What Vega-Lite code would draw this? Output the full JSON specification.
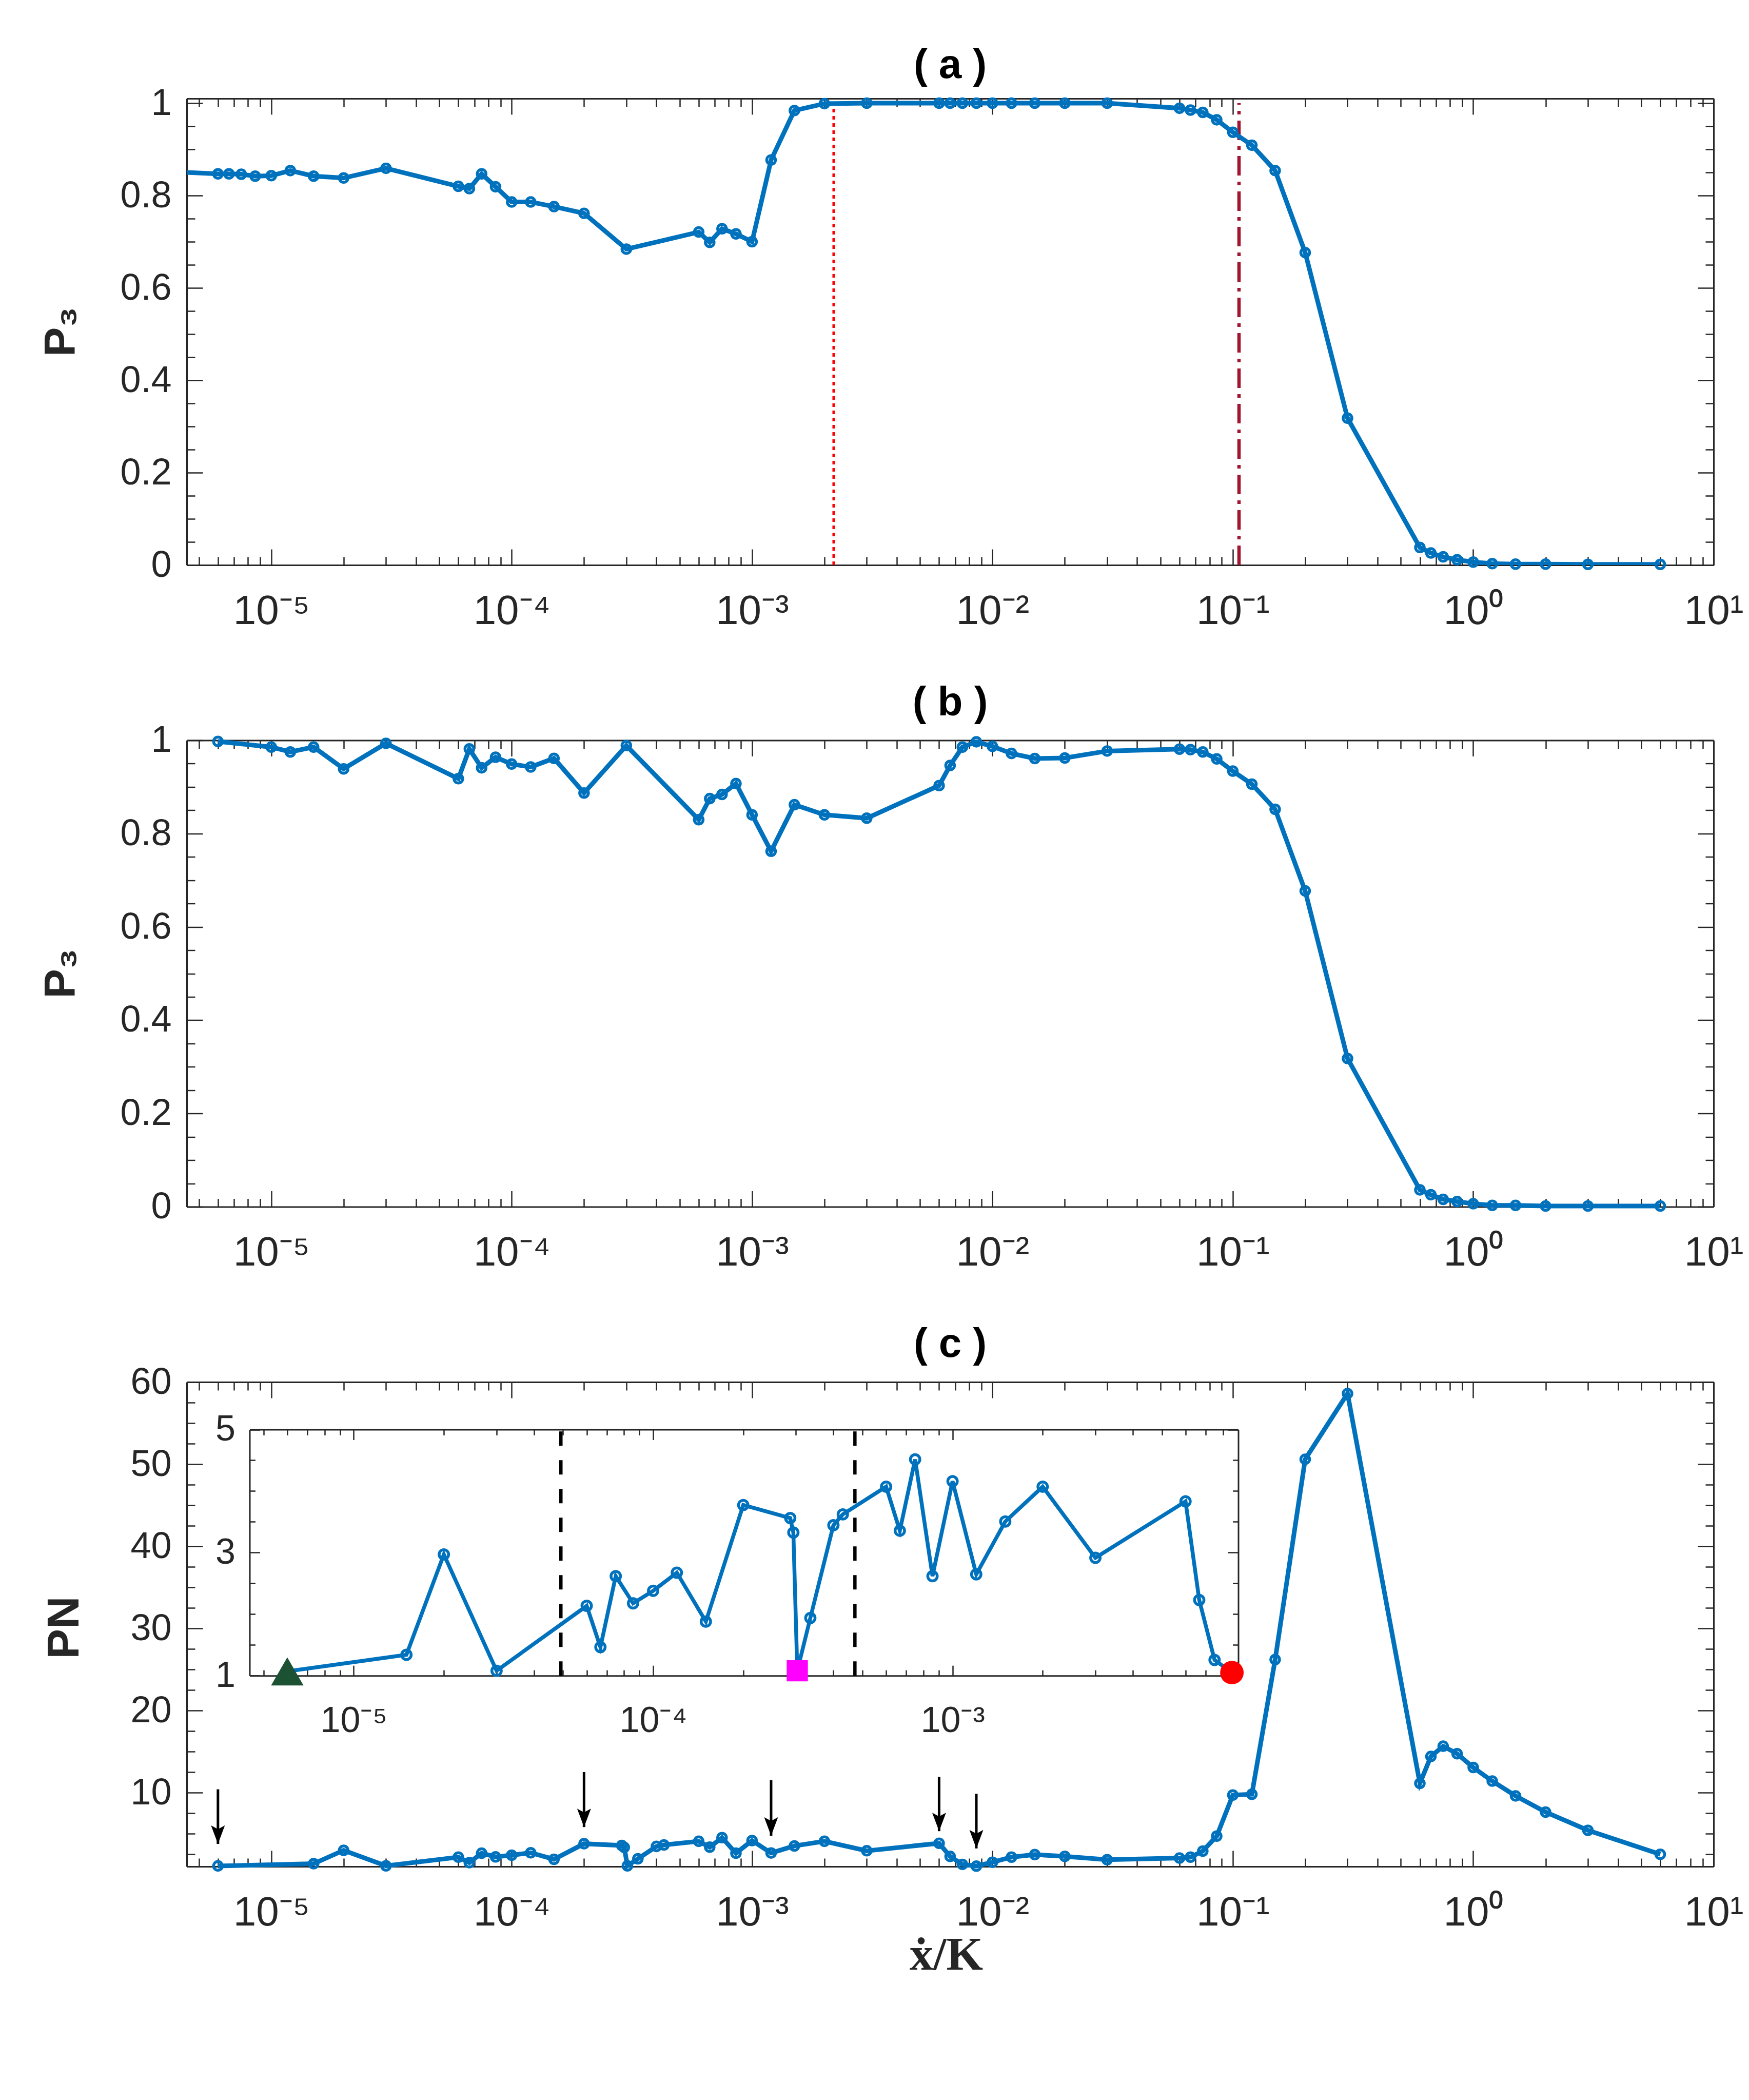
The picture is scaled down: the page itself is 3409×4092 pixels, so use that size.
{
  "$schema": "https://vega.github.io/schema/vega-lite/v6.json",
  "background": "white",
  "padding": {"left": 76, "top": 88, "right": 40, "bottom": 40},
  "bounds": "flush",
  "spacing": 341.5,
  "config": {
    "view": {"stroke": null},
    "font": "Liberation Sans",
    "axis": {"grid": false, "domainColor": "#262626", "domainWidth": 3, "tickColor": "#262626", "tickWidth": 2.5, "labelColor": "#262626", "labelFont": "Liberation Sans", "titleColor": "#262626"},
    "title": {"font": "Liberation Sans", "fontSize": 80, "fontWeight": "bold", "color": "#000000", "anchor": "middle", "baseline": "alphabetic", "offset": -4},
    "point": {"opacity": 1}
  },
  "datasets": {
    "pa": [
      {"x": 3e-6, "p3": 0.854}, {"x": 6e-6, "p3": 0.847}, {"x": 6.667e-6, "p3": 0.847}, {"x": 7.5e-6, "p3": 0.846}, {"x": 8.571e-6, "p3": 0.842},
      {"x": 1e-5, "p3": 0.843}, {"x": 1.2e-5, "p3": 0.854}, {"x": 1.5e-5, "p3": 0.842}, {"x": 2e-5, "p3": 0.838}, {"x": 3e-5, "p3": 0.859},
      {"x": 6e-5, "p3": 0.82}, {"x": 6.667e-5, "p3": 0.815}, {"x": 7.5e-5, "p3": 0.847}, {"x": 8.571e-5, "p3": 0.819}, {"x": 1e-4, "p3": 0.786},
      {"x": 1.2e-4, "p3": 0.786}, {"x": 1.5e-4, "p3": 0.776}, {"x": 2e-4, "p3": 0.7615}, {"x": 3e-4, "p3": 0.684}, {"x": 6e-4, "p3": 0.721},
      {"x": 6.667e-4, "p3": 0.6985}, {"x": 7.5e-4, "p3": 0.728}, {"x": 8.571e-4, "p3": 0.717}, {"x": 0.001, "p3": 0.7}, {"x": 0.0012, "p3": 0.877},
      {"x": 0.0015, "p3": 0.984}, {"x": 0.002, "p3": 0.999}, {"x": 0.003, "p3": 1.0}, {"x": 0.006, "p3": 1.0}, {"x": 0.006667, "p3": 1.0},
      {"x": 0.0075, "p3": 1.0}, {"x": 0.008571, "p3": 1.0}, {"x": 0.01, "p3": 1.0}, {"x": 0.012, "p3": 1.0}, {"x": 0.015, "p3": 1.0},
      {"x": 0.02, "p3": 1.0}, {"x": 0.03, "p3": 1.0}, {"x": 0.06, "p3": 0.989}, {"x": 0.06667, "p3": 0.985}, {"x": 0.075, "p3": 0.98},
      {"x": 0.08571, "p3": 0.964}, {"x": 0.1, "p3": 0.937}, {"x": 0.12, "p3": 0.909}, {"x": 0.15, "p3": 0.854}, {"x": 0.2, "p3": 0.6765},
      {"x": 0.3, "p3": 0.318}, {"x": 0.6, "p3": 0.038}, {"x": 0.6667, "p3": 0.026}, {"x": 0.75, "p3": 0.0177}, {"x": 0.8571, "p3": 0.0113},
      {"x": 1, "p3": 0.0064}, {"x": 1.2, "p3": 0.003}, {"x": 1.5, "p3": 0.002}, {"x": 2, "p3": 0.002}, {"x": 3, "p3": 0.0014}, {"x": 6, "p3": 0.0014}
    ],
    "pb": [
      {"x": 6e-6, "p3": 0.9976}, {"x": 1e-5, "p3": 0.9855}, {"x": 1.2e-5, "p3": 0.975}, {"x": 1.5e-5, "p3": 0.9855}, {"x": 2e-5, "p3": 0.9387},
      {"x": 3e-5, "p3": 0.9935}, {"x": 6e-5, "p3": 0.9177}, {"x": 6.667e-5, "p3": 0.9815}, {"x": 7.5e-5, "p3": 0.941}, {"x": 8.571e-5, "p3": 0.9637},
      {"x": 1e-4, "p3": 0.949}, {"x": 1.2e-4, "p3": 0.9427}, {"x": 1.5e-4, "p3": 0.9613}, {"x": 2e-4, "p3": 0.887}, {"x": 3e-4, "p3": 0.9887},
      {"x": 6e-4, "p3": 0.8298}, {"x": 6.667e-4, "p3": 0.875}, {"x": 7.5e-4, "p3": 0.8839}, {"x": 8.571e-4, "p3": 0.9073}, {"x": 0.001, "p3": 0.8403},
      {"x": 0.0012, "p3": 0.7621}, {"x": 0.0015, "p3": 0.862}, {"x": 0.002, "p3": 0.8403}, {"x": 0.003, "p3": 0.833}, {"x": 0.006, "p3": 0.903},
      {"x": 0.006667, "p3": 0.946}, {"x": 0.0075, "p3": 0.9855}, {"x": 0.008571, "p3": 0.9968}, {"x": 0.01, "p3": 0.987}, {"x": 0.012, "p3": 0.9718},
      {"x": 0.015, "p3": 0.961}, {"x": 0.02, "p3": 0.962}, {"x": 0.03, "p3": 0.977}, {"x": 0.06, "p3": 0.981}, {"x": 0.06667, "p3": 0.98},
      {"x": 0.075, "p3": 0.975}, {"x": 0.08571, "p3": 0.96}, {"x": 0.1, "p3": 0.934}, {"x": 0.12, "p3": 0.906}, {"x": 0.15, "p3": 0.852},
      {"x": 0.2, "p3": 0.677}, {"x": 0.3, "p3": 0.318}, {"x": 0.6, "p3": 0.0363}, {"x": 0.6667, "p3": 0.0258}, {"x": 0.75, "p3": 0.016},
      {"x": 0.8571, "p3": 0.0113}, {"x": 1, "p3": 0.0065}, {"x": 1.2, "p3": 0.003}, {"x": 1.5, "p3": 0.003}, {"x": 2, "p3": 0.0016},
      {"x": 3, "p3": 0.0016}, {"x": 6, "p3": 0.0016}
    ],
    "pc": [
      {"x": 6e-6, "pn": 1.07}, {"x": 1.5e-5, "pn": 1.34}, {"x": 2e-5, "pn": 2.97}, {"x": 3e-5, "pn": 1.08}, {"x": 6e-5, "pn": 2.135},
      {"x": 6.667e-5, "pn": 1.465}, {"x": 7.5e-5, "pn": 2.617}, {"x": 8.571e-5, "pn": 2.176}, {"x": 1e-4, "pn": 2.379}, {"x": 1.2e-4, "pn": 2.674},
      {"x": 1.5e-4, "pn": 1.879}, {"x": 2e-4, "pn": 3.773}, {"x": 2.87e-4, "pn": 3.561}, {"x": 2.94e-4, "pn": 3.326}, {"x": 3.03e-4, "pn": 1.08},
      {"x": 3.35e-4, "pn": 1.938}, {"x": 4e-4, "pn": 3.445}, {"x": 4.3e-4, "pn": 3.621}, {"x": 6e-4, "pn": 4.071}, {"x": 6.667e-4, "pn": 3.356},
      {"x": 7.5e-4, "pn": 4.5145}, {"x": 8.571e-4, "pn": 2.617}, {"x": 0.001, "pn": 4.16}, {"x": 0.0012, "pn": 2.647}, {"x": 0.0015, "pn": 3.505},
      {"x": 0.002, "pn": 4.071}, {"x": 0.003, "pn": 2.915}, {"x": 0.006, "pn": 3.832}, {"x": 0.006667, "pn": 2.23}, {"x": 0.0075, "pn": 1.256},
      {"x": 0.008571, "pn": 1.05}, {"x": 0.01, "pn": 1.52}, {"x": 0.012, "pn": 2.14}, {"x": 0.015, "pn": 2.45}, {"x": 0.02, "pn": 2.24},
      {"x": 0.03, "pn": 1.83}, {"x": 0.06, "pn": 2.03}, {"x": 0.06667, "pn": 2.14}, {"x": 0.075, "pn": 2.88}, {"x": 0.08571, "pn": 4.7},
      {"x": 0.1, "pn": 9.7}, {"x": 0.12, "pn": 9.8}, {"x": 0.15, "pn": 26.2}, {"x": 0.2, "pn": 50.6}, {"x": 0.3, "pn": 58.6},
      {"x": 0.6, "pn": 11.13}, {"x": 0.6667, "pn": 14.4}, {"x": 0.75, "pn": 15.65}, {"x": 0.8571, "pn": 14.73}, {"x": 1, "pn": 13.06},
      {"x": 1.2, "pn": 11.4}, {"x": 1.5, "pn": 9.6}, {"x": 2, "pn": 7.63}, {"x": 3, "pn": 5.41}, {"x": 6, "pn": 2.48}
    ],
    "arrows": [
      {"x": 6e-6, "top": 10.4, "tip": 3.75}, {"x": 2e-4, "top": 12.5, "tip": 5.8}, {"x": 0.0012, "top": 11.5, "tip": 4.75},
      {"x": 0.006, "top": 11.9, "tip": 5.3}, {"x": 0.008571, "top": 9.85, "tip": 3.2}
    ]
  },
  "vconcat": [
    {
      "width": 2976, "height": 909,
      "title": {"text": "( a )"},
      "resolve": {"axis": {"x": "independent", "y": "independent"}},
      "layer": [
        {
          "data": {"values": [{"x": 0.002186}]},
          "mark": {"type": "rule", "color": "#FF0000", "strokeWidth": 5, "strokeDash": [7, 7]},
          "encoding": {
            "x": {"field": "x", "type": "quantitative", "scale": {"type": "log", "domain": [4.45e-6, 10], "nice": false},
                  "axis": {"orient": "top", "values": [1e-5, 1e-4, 0.001, 0.01, 0.1, 1, 10], "tickSize": -31, "labels": false, "title": null}},
            "y": {"datum": 0, "type": "quantitative", "scale": {"domain": [0, 1.01], "nice": false, "zero": false},
                  "axis": {"orient": "right", "values": [0, 0.2, 0.4, 0.6, 0.8, 1], "tickSize": -31, "labels": false, "title": null}},
            "y2": {"datum": 1}
          }
        },
        {
          "data": {"values": [{"x": 0.1061}]},
          "mark": {"type": "rule", "color": "#A2142F", "strokeWidth": 6.5, "strokeDash": [38, 12, 7, 12]},
          "encoding": {
            "x": {"field": "x", "type": "quantitative", "scale": {"type": "log", "domain": [4.45e-6, 10], "nice": false},
                  "axis": {"orient": "top", "values": [5e-6, 6e-6, 7e-6, 8e-6, 9e-6, 2e-5, 3e-5, 4e-5, 5e-5, 6e-5, 7e-5, 8e-5, 9e-5, 2e-4, 3e-4, 4e-4, 5e-4, 6e-4, 7e-4, 8e-4, 9e-4, 0.002, 0.003, 0.004, 0.005, 0.006, 0.007, 0.008, 0.009, 0.02, 0.03, 0.04, 0.05, 0.06, 0.07, 0.08, 0.09, 0.2, 0.3, 0.4, 0.5, 0.6, 0.7, 0.8, 0.9, 2, 3, 4, 5, 6, 7, 8, 9], "tickSize": -16, "labels": false, "domain": false, "title": null}},
            "y": {"datum": 0, "type": "quantitative", "scale": {"domain": [0, 1.01], "nice": false, "zero": false},
                  "axis": {"orient": "right", "values": [0.05, 0.1, 0.15, 0.25, 0.3, 0.35, 0.45, 0.5, 0.55, 0.65, 0.7, 0.75, 0.85, 0.9, 0.95], "tickSize": -16, "labels": false, "domain": false, "title": null}},
            "y2": {"datum": 1}
          }
        },
        {
          "data": {"name": "pa"},
          "mark": {"type": "line", "clip": true, "color": "#0072BD", "strokeWidth": 9},
          "encoding": {
            "x": {"field": "x", "type": "quantitative", "scale": {"type": "log", "domain": [4.45e-6, 10], "nice": false},
                  "axis": {"orient": "bottom", "values": [1e-5, 1e-4, 0.001, 0.01, 0.1, 1, 10], "tickSize": -31, "labelExpr": "'10' + replace(replace(replace(replace(replace(replace(replace(replace('' + round(log(datum.value)/LN10), '-', '⁻'), '0', '⁰'), '1', '¹'), '2', '²'), '3', '³'), '4', '⁴'), '5', '⁵'), '6', '⁶')", "labelFontSize": 80, "labelBaseline": "alphabetic", "labelPadding": 145, "labelFlush": false, "labelOverlap": false, "title": null}},
            "y": {"field": "p3", "type": "quantitative", "scale": {"domain": [0, 1.01], "nice": false, "zero": false},
                  "axis": {"orient": "left", "values": [0, 0.2, 0.4, 0.6, 0.8, 1], "labelExpr": "'' + datum.value", "tickSize": -31, "labelFontSize": 72, "labelPadding": 61, "title": "P₃", "titleFont": "Liberation Sans", "titleFontSize": 86, "titleFontWeight": "bold", "titleAngle": 270, "titleX": -245, "titleY": 454, "titleAlign": "center", "titleBaseline": "middle"}}
          }
        },
        {
          "data": {"name": "pa"},
          "transform": [{"filter": "datum.x > 4.45e-6"}],
          "mark": {"type": "point", "shape": "circle", "filled": false, "color": "#0072BD", "strokeWidth": 5.5, "size": 290, "opacity": 1},
          "encoding": {
            "x": {"field": "x", "type": "quantitative", "scale": {"type": "log", "domain": [4.45e-6, 10], "nice": false},
                  "axis": {"orient": "bottom", "values": [5e-6, 6e-6, 7e-6, 8e-6, 9e-6, 2e-5, 3e-5, 4e-5, 5e-5, 6e-5, 7e-5, 8e-5, 9e-5, 2e-4, 3e-4, 4e-4, 5e-4, 6e-4, 7e-4, 8e-4, 9e-4, 0.002, 0.003, 0.004, 0.005, 0.006, 0.007, 0.008, 0.009, 0.02, 0.03, 0.04, 0.05, 0.06, 0.07, 0.08, 0.09, 0.2, 0.3, 0.4, 0.5, 0.6, 0.7, 0.8, 0.9, 2, 3, 4, 5, 6, 7, 8, 9], "tickSize": -16, "labels": false, "domain": false, "title": null}},
            "y": {"field": "p3", "type": "quantitative", "scale": {"domain": [0, 1.01], "nice": false, "zero": false},
                  "axis": {"orient": "left", "values": [0.05, 0.1, 0.15, 0.25, 0.3, 0.35, 0.45, 0.5, 0.55, 0.65, 0.7, 0.75, 0.85, 0.9, 0.95], "tickSize": -16, "labels": false, "domain": false, "title": null}}
          }
        }
      ]
    },
    {
      "width": 2976, "height": 909,
      "title": {"text": "( b )"},
      "resolve": {"axis": {"x": "independent", "y": "independent"}},
      "layer": [
        {
          "data": {"name": "pb"},
          "mark": {"type": "line", "color": "#0072BD", "strokeWidth": 9},
          "encoding": {
            "x": {"field": "x", "type": "quantitative", "scale": {"type": "log", "domain": [4.45e-6, 10], "nice": false},
                  "axis": {"orient": "bottom", "values": [1e-5, 1e-4, 0.001, 0.01, 0.1, 1, 10], "tickSize": -31, "labelExpr": "'10' + replace(replace(replace(replace(replace(replace(replace(replace('' + round(log(datum.value)/LN10), '-', '⁻'), '0', '⁰'), '1', '¹'), '2', '²'), '3', '³'), '4', '⁴'), '5', '⁵'), '6', '⁶')", "labelFontSize": 80, "labelBaseline": "alphabetic", "labelPadding": 145, "labelFlush": false, "labelOverlap": false, "title": null}},
            "y": {"field": "p3", "type": "quantitative", "scale": {"domain": [0, 1], "nice": false, "zero": false},
                  "axis": {"orient": "left", "values": [0, 0.2, 0.4, 0.6, 0.8, 1], "labelExpr": "'' + datum.value", "tickSize": -31, "labelFontSize": 72, "labelPadding": 61, "title": "P₃", "titleFont": "Liberation Sans", "titleFontSize": 86, "titleFontWeight": "bold", "titleAngle": 270, "titleX": -245, "titleY": 454, "titleAlign": "center", "titleBaseline": "middle"}}
          }
        },
        {
          "data": {"name": "pb"},
          "mark": {"type": "point", "shape": "circle", "filled": false, "color": "#0072BD", "strokeWidth": 5.5, "size": 290, "opacity": 1},
          "encoding": {
            "x": {"field": "x", "type": "quantitative", "scale": {"type": "log", "domain": [4.45e-6, 10], "nice": false},
                  "axis": {"orient": "bottom", "values": [5e-6, 6e-6, 7e-6, 8e-6, 9e-6, 2e-5, 3e-5, 4e-5, 5e-5, 6e-5, 7e-5, 8e-5, 9e-5, 2e-4, 3e-4, 4e-4, 5e-4, 6e-4, 7e-4, 8e-4, 9e-4, 0.002, 0.003, 0.004, 0.005, 0.006, 0.007, 0.008, 0.009, 0.02, 0.03, 0.04, 0.05, 0.06, 0.07, 0.08, 0.09, 0.2, 0.3, 0.4, 0.5, 0.6, 0.7, 0.8, 0.9, 2, 3, 4, 5, 6, 7, 8, 9], "tickSize": -16, "labels": false, "domain": false, "title": null}},
            "y": {"field": "p3", "type": "quantitative", "scale": {"domain": [0, 1], "nice": false, "zero": false},
                  "axis": {"orient": "left", "values": [0.05, 0.1, 0.15, 0.25, 0.3, 0.35, 0.45, 0.5, 0.55, 0.65, 0.7, 0.75, 0.85, 0.9, 0.95], "tickSize": -16, "labels": false, "domain": false, "title": null}}
          }
        },
        {
          "data": {"name": "pb"},
          "mark": {"type": "point", "opacity": 0},
          "encoding": {
            "x": {"field": "x", "type": "quantitative", "scale": {"type": "log", "domain": [4.45e-6, 10], "nice": false},
                  "axis": {"orient": "top", "values": [1e-5, 1e-4, 0.001, 0.01, 0.1, 1, 10], "tickSize": -31, "labels": false, "title": null}},
            "y": {"field": "p3", "type": "quantitative", "scale": {"domain": [0, 1], "nice": false, "zero": false},
                  "axis": {"orient": "right", "values": [0, 0.2, 0.4, 0.6, 0.8, 1], "tickSize": -31, "labels": false, "title": null}}
          }
        },
        {
          "data": {"name": "pb"},
          "mark": {"type": "point", "opacity": 0},
          "encoding": {
            "x": {"field": "x", "type": "quantitative", "scale": {"type": "log", "domain": [4.45e-6, 10], "nice": false},
                  "axis": {"orient": "top", "values": [5e-6, 6e-6, 7e-6, 8e-6, 9e-6, 2e-5, 3e-5, 4e-5, 5e-5, 6e-5, 7e-5, 8e-5, 9e-5, 2e-4, 3e-4, 4e-4, 5e-4, 6e-4, 7e-4, 8e-4, 9e-4, 0.002, 0.003, 0.004, 0.005, 0.006, 0.007, 0.008, 0.009, 0.02, 0.03, 0.04, 0.05, 0.06, 0.07, 0.08, 0.09, 0.2, 0.3, 0.4, 0.5, 0.6, 0.7, 0.8, 0.9, 2, 3, 4, 5, 6, 7, 8, 9], "tickSize": -16, "labels": false, "domain": false, "title": null}},
            "y": {"field": "p3", "type": "quantitative", "scale": {"domain": [0, 1], "nice": false, "zero": false},
                  "axis": {"orient": "right", "values": [0.05, 0.1, 0.15, 0.25, 0.3, 0.35, 0.45, 0.5, 0.55, 0.65, 0.7, 0.75, 0.85, 0.9, 0.95], "tickSize": -16, "labels": false, "domain": false, "title": null}}
          }
        }
      ]
    },
    {
      "width": 2976, "height": 944,
      "title": {"text": "( c )"},
      "resolve": {"scale": {"x": "independent", "y": "independent"}, "axis": {"x": "independent", "y": "independent"}},
      "layer": [
        {
          "data": {"name": "pc"},
          "mark": {"type": "line", "color": "#0072BD", "strokeWidth": 9},
          "encoding": {
            "x": {"field": "x", "type": "quantitative", "scale": {"type": "log", "domain": [4.45e-6, 10], "nice": false},
                  "axis": {"orient": "bottom", "values": [1e-5, 1e-4, 0.001, 0.01, 0.1, 1, 10], "tickSize": -31, "labelExpr": "'10' + replace(replace(replace(replace(replace(replace(replace(replace('' + round(log(datum.value)/LN10), '-', '⁻'), '0', '⁰'), '1', '¹'), '2', '²'), '3', '³'), '4', '⁴'), '5', '⁵'), '6', '⁶')", "labelFontSize": 80, "labelBaseline": "alphabetic", "labelPadding": 145, "labelFlush": false, "labelOverlap": false,
                           "title": "ẋ/K", "titleFont": "Liberation Serif", "titleFontSize": 92, "titleFontWeight": "bold", "titleX": 1480, "titleY": 200, "titleAlign": "center", "titleBaseline": "alphabetic"}},
            "y": {"field": "pn", "type": "quantitative", "scale": {"domain": [1, 60], "nice": false, "zero": false},
                  "axis": {"orient": "left", "values": [10, 20, 30, 40, 50, 60], "tickSize": -31, "labelFontSize": 72, "labelPadding": 61, "title": "PN", "titleFont": "Liberation Sans", "titleFontSize": 88, "titleFontWeight": "bold", "titleAngle": 270, "titleX": -238, "titleY": 478, "titleAlign": "center", "titleBaseline": "middle"}}
          }
        },
        {
          "data": {"name": "pc"},
          "mark": {"type": "point", "shape": "circle", "filled": false, "color": "#0072BD", "strokeWidth": 5.5, "size": 290, "opacity": 1},
          "encoding": {
            "x": {"field": "x", "type": "quantitative", "scale": {"type": "log", "domain": [4.45e-6, 10], "nice": false},
                  "axis": {"orient": "bottom", "values": [5e-6, 6e-6, 7e-6, 8e-6, 9e-6, 2e-5, 3e-5, 4e-5, 5e-5, 6e-5, 7e-5, 8e-5, 9e-5, 2e-4, 3e-4, 4e-4, 5e-4, 6e-4, 7e-4, 8e-4, 9e-4, 0.002, 0.003, 0.004, 0.005, 0.006, 0.007, 0.008, 0.009, 0.02, 0.03, 0.04, 0.05, 0.06, 0.07, 0.08, 0.09, 0.2, 0.3, 0.4, 0.5, 0.6, 0.7, 0.8, 0.9, 2, 3, 4, 5, 6, 7, 8, 9], "tickSize": -16, "labels": false, "domain": false, "title": null}},
            "y": {"field": "pn", "type": "quantitative", "scale": {"domain": [1, 60], "nice": false, "zero": false},
                  "axis": {"orient": "left", "values": [2.5, 5, 7.5, 12.5, 15, 17.5, 22.5, 25, 27.5, 32.5, 35, 37.5, 42.5, 45, 47.5, 52.5, 55, 57.5], "tickSize": -16, "labels": false, "domain": false, "title": null}}
          }
        },
        {
          "data": {"name": "arrows"},
          "mark": {"type": "rule", "color": "#000000", "strokeWidth": 5},
          "encoding": {
            "x": {"field": "x", "type": "quantitative", "scale": {"type": "log", "domain": [4.45e-6, 10], "nice": false},
                  "axis": {"orient": "top", "values": [1e-5, 1e-4, 0.001, 0.01, 0.1, 1, 10], "tickSize": -31, "labels": false, "title": null}},
            "y": {"field": "top", "type": "quantitative", "scale": {"domain": [1, 60], "nice": false, "zero": false},
                  "axis": {"orient": "right", "values": [10, 20, 30, 40, 50, 60], "tickSize": -31, "labels": false, "title": null}},
            "y2": {"field": "tip"}
          }
        },
        {
          "data": {"name": "arrows"},
          "mark": {"type": "point", "shape": "M0,0 L-0.75,-2 L0,-1.6 L0.75,-2 Z", "filled": true, "color": "#000000", "size": 1296, "opacity": 1},
          "encoding": {
            "x": {"field": "x", "type": "quantitative", "scale": {"type": "log", "domain": [4.45e-6, 10], "nice": false},
                  "axis": {"orient": "top", "values": [5e-6, 6e-6, 7e-6, 8e-6, 9e-6, 2e-5, 3e-5, 4e-5, 5e-5, 6e-5, 7e-5, 8e-5, 9e-5, 2e-4, 3e-4, 4e-4, 5e-4, 6e-4, 7e-4, 8e-4, 9e-4, 0.002, 0.003, 0.004, 0.005, 0.006, 0.007, 0.008, 0.009, 0.02, 0.03, 0.04, 0.05, 0.06, 0.07, 0.08, 0.09, 0.2, 0.3, 0.4, 0.5, 0.6, 0.7, 0.8, 0.9, 2, 3, 4, 5, 6, 7, 8, 9], "tickSize": -16, "labels": false, "domain": false, "title": null}},
            "y": {"field": "tip", "type": "quantitative", "scale": {"domain": [1, 60], "nice": false, "zero": false},
                  "axis": {"orient": "right", "values": [2.5, 5, 7.5, 12.5, 15, 17.5, 22.5, 25, 27.5, 32.5, 35, 37.5, 42.5, 45, 47.5, 52.5, 55, 57.5], "tickSize": -16, "labels": false, "domain": false, "title": null}}
          }
        },
        {
          "data": {"values": [{"x": 4.92e-5}, {"x": 4.72e-4}]},
          "mark": {"type": "rule", "color": "#000000", "strokeWidth": 6.5, "strokeDash": [28, 28]},
          "encoding": {
            "x": {"field": "x", "type": "quantitative", "scale": {"type": "log", "domain": [4.49e-6, 0.009], "range": [122.5, 2049.5], "nice": false},
                  "axis": {"orient": "top", "offset": -92.5, "values": [1e-5, 1e-4, 0.001], "tickSize": -20, "labels": false, "title": null}},
            "y": {"datum": 1, "type": "quantitative", "scale": {"domain": [1, 5], "range": [572.2, 92.5], "nice": false, "zero": false},
                  "axis": {"orient": "right", "offset": -926.5, "values": [1, 3, 5], "tickSize": -20, "labels": false, "title": null}},
            "y2": {"datum": 5}
          }
        },
        {
          "data": {"name": "pc"},
          "transform": [{"filter": "datum.x <= 0.009"}],
          "mark": {"type": "line", "color": "#0072BD", "strokeWidth": 7.5},
          "encoding": {
            "x": {"field": "x", "type": "quantitative", "scale": {"type": "log", "domain": [4.49e-6, 0.009], "range": [122.5, 2049.5], "nice": false},
                  "axis": {"orient": "bottom", "offset": -371.8, "values": [1e-5, 1e-4, 0.001], "tickSize": -20, "labelExpr": "'10' + replace(replace(replace(replace(replace(replace('' + round(log(datum.value)/LN10), '-', '⁻'), '0', '⁰'), '1', '¹'), '3', '³'), '4', '⁴'), '5', '⁵')", "labelFontSize": 70, "labelBaseline": "alphabetic", "labelPadding": 129, "labelFlush": false, "labelOverlap": false, "title": null}},
            "y": {"field": "pn", "type": "quantitative", "scale": {"domain": [1, 5], "range": [572.2, 92.5], "nice": false, "zero": false},
                  "axis": {"orient": "left", "offset": -122.5, "values": [1, 3, 5], "tickSize": -20, "labelFontSize": 70, "labelPadding": 48, "title": null}}
          }
        },
        {
          "data": {"name": "pc"},
          "transform": [{"filter": "datum.x <= 0.009"}],
          "mark": {"type": "point", "shape": "circle", "filled": false, "color": "#0072BD", "strokeWidth": 5.5, "size": 340, "opacity": 1},
          "encoding": {
            "x": {"field": "x", "type": "quantitative", "scale": {"type": "log", "domain": [4.49e-6, 0.009], "range": [122.5, 2049.5], "nice": false},
                  "axis": {"orient": "bottom", "offset": -371.8, "values": [5e-6, 6e-6, 7e-6, 8e-6, 9e-6, 2e-5, 3e-5, 4e-5, 5e-5, 6e-5, 7e-5, 8e-5, 9e-5, 2e-4, 3e-4, 4e-4, 5e-4, 6e-4, 7e-4, 8e-4, 9e-4, 0.002, 0.003, 0.004, 0.005, 0.006, 0.007, 0.008], "tickSize": -11, "labels": false, "domain": false, "title": null}},
            "y": {"field": "pn", "type": "quantitative", "scale": {"domain": [1, 5], "range": [572.2, 92.5], "nice": false, "zero": false},
                  "axis": {"orient": "left", "offset": -122.5, "values": [1.5, 2, 2.5, 3.5, 4, 4.5], "tickSize": -11, "labels": false, "domain": false, "title": null}}
          }
        },
        {
          "data": {"name": "pc"},
          "transform": [{"filter": "datum.x == 6e-6"}],
          "mark": {"type": "point", "shape": "triangle-up", "filled": true, "color": "#1D5134", "size": 4000, "opacity": 1},
          "encoding": {
            "x": {"field": "x", "type": "quantitative", "scale": {"type": "log", "domain": [4.49e-6, 0.009], "range": [122.5, 2049.5], "nice": false},
                  "axis": {"orient": "top", "offset": -92.5, "values": [5e-6, 6e-6, 7e-6, 8e-6, 9e-6, 2e-5, 3e-5, 4e-5, 5e-5, 6e-5, 7e-5, 8e-5, 9e-5, 2e-4, 3e-4, 4e-4, 5e-4, 6e-4, 7e-4, 8e-4, 9e-4, 0.002, 0.003, 0.004, 0.005, 0.006, 0.007, 0.008], "tickSize": -11, "labels": false, "domain": false, "title": null}},
            "y": {"field": "pn", "type": "quantitative", "scale": {"domain": [1, 5], "range": [572.2, 92.5], "nice": false, "zero": false},
                  "axis": {"orient": "right", "offset": -926.5, "values": [1.5, 2, 2.5, 3.5, 4, 4.5], "tickSize": -11, "labels": false, "domain": false, "title": null}}
          }
        },
        {
          "data": {"name": "pc"},
          "transform": [{"filter": "datum.x == 3.03e-4"}],
          "mark": {"type": "point", "shape": "square", "filled": true, "color": "#FF00FF", "size": 1700, "opacity": 1},
          "encoding": {
            "x": {"field": "x", "type": "quantitative", "scale": {"type": "log", "domain": [4.49e-6, 0.009], "range": [122.5, 2049.5], "nice": false}, "axis": null},
            "y": {"field": "pn", "type": "quantitative", "scale": {"domain": [1, 5], "range": [572.2, 92.5], "nice": false, "zero": false}, "axis": null}
          }
        },
        {
          "data": {"name": "pc"},
          "transform": [{"filter": "datum.x == 0.008571"}],
          "mark": {"type": "point", "shape": "circle", "filled": true, "color": "#FF0000", "size": 2100, "opacity": 1},
          "encoding": {
            "x": {"field": "x", "type": "quantitative", "scale": {"type": "log", "domain": [4.49e-6, 0.009], "range": [122.5, 2049.5], "nice": false}, "axis": null},
            "y": {"field": "pn", "type": "quantitative", "scale": {"domain": [1, 5], "range": [572.2, 92.5], "nice": false, "zero": false}, "axis": null}
          }
        }
      ]
    }
  ]
}
